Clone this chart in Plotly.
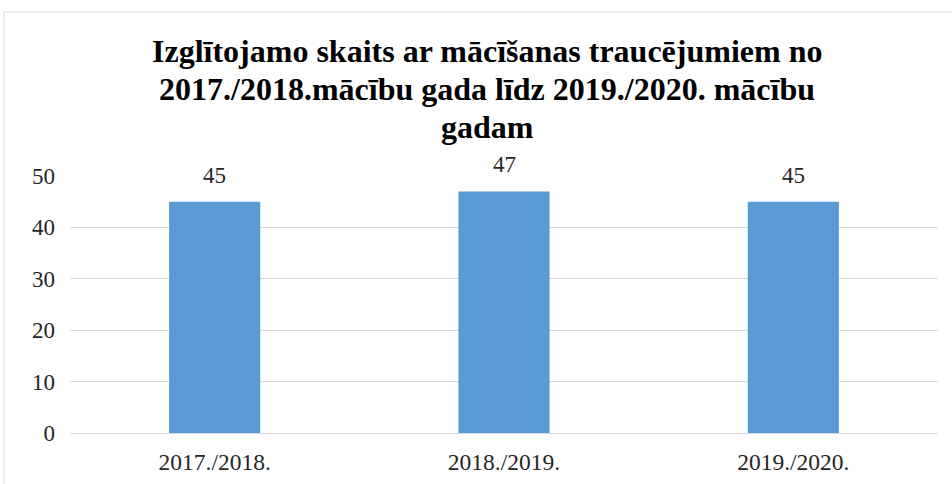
import plotly.graph_objects as go

categories = ["2017./2018.", "2018./2019.", "2019./2020."]
values = [45, 47, 45]
y_ticks = [0, 10, 20, 30, 40, 50]
title_lines = ["Izglītojamo skaits ar mācīšanas traucējumiem no",
               "2017./2018.mācību gada līdz 2019./2020. mācību",
               "gadam"]

FONT = "Liberation Serif, Times New Roman, serif"

fig = go.Figure(go.Bar(
    x=categories, y=values,
    marker=dict(color="#5b9bd5", line=dict(width=0)),
    width=0.315,
    hoverinfo="x+y",
))

L, R, T, B = 70, 14, 176, 51
W, H = 952, 484
pw, ph = W - L - R, H - T - B

annotations = []
for cat, v in zip(categories, values):
    annotations.append(dict(x=cat, y=v, xref="x", yref="y", text=str(v), showarrow=False,
                            yanchor="bottom", yshift=12,
                            font=dict(family=FONT, size=23, color="#262626")))
title_y_px = [51, 89, 127]
for line, ypx in zip(title_lines, title_y_px):
    annotations.append(dict(x=(487 - L) / pw, y=1 + (T - ypx) / ph, xref="paper", yref="paper",
                            text=f"<b>{line}</b>", showarrow=False,
                            xanchor="center", yanchor="middle",
                            font=dict(family=FONT, size=32, color="black")))

fig.update_layout(
    width=W, height=H,
    margin=dict(l=L, r=R, t=T, b=B, autoexpand=False),
    paper_bgcolor="white", plot_bgcolor="white",
    showlegend=False,
    annotations=annotations,
    xaxis=dict(showgrid=False, showline=False, ticks="", ticklabelstandoff=12,
               automargin=False,
               tickfont=dict(family=FONT, size=23.5, color="#262626")),
    yaxis=dict(range=[0, 50], tickvals=y_ticks, showgrid=True, gridcolor="#d9d9d9",
               gridwidth=1, zeroline=True, zerolinecolor="#d9d9d9", zerolinewidth=1,
               showline=False, ticks="", ticklabelstandoff=14, automargin=False,
               tickfont=dict(family=FONT, size=23, color="#262626")),
    shapes=[dict(type="rect", xref="paper", yref="paper",
                 x0=(4 - L) / pw, x1=(W + 20 - L) / pw,
                 y0=-(B + 20) / ph, y1=1 + (T - 12) / ph,
                 line=dict(color="#d9d9d9", width=1), fillcolor="rgba(0,0,0,0)",
                 layer="below")],
)

fig.write_html("out.html", config={"displayModeBar": False},
               post_script="document.body.style.margin='0';")
